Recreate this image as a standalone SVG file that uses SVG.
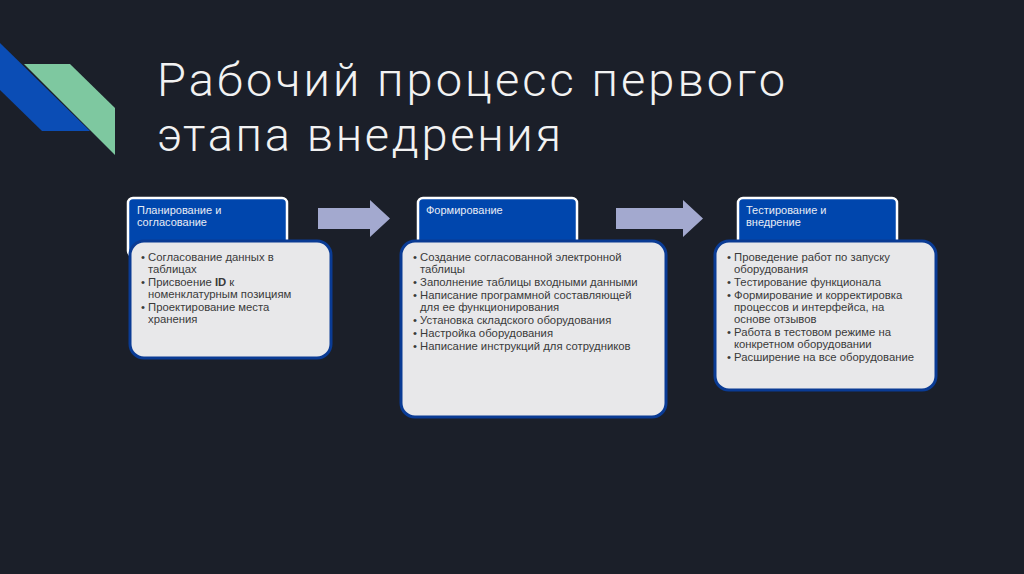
<svg xmlns="http://www.w3.org/2000/svg" width="1024" height="574" viewBox="0 0 1024 574">
<style>
.hd{fill:#0046ad;stroke:#fff;stroke-width:2.5}
.bd{fill:#e8e8ea;stroke:#0a3b94;stroke-width:3}
.ht{font-family:"Liberation Sans",Arial,sans-serif;font-size:11px;fill:#e8ecf5}
.bt{font-family:"Liberation Sans",Arial,sans-serif;font-size:11.3px;fill:#3a3a3a}
.ar{fill:#a3a9cf}
.ti{font-family:Roboto,"Liberation Sans",sans-serif;font-size:47px;font-weight:300;fill:#f2f2f2}
</style>
<rect width="1024" height="574" fill="#1b1f29"/>
<polygon points="0,43 90,131 42,131 0,90" fill="#0b4db5"/>
<polygon points="24,64 70,64 115,108 115,155" fill="#7ec8a0"/>
<text class="ti" x="157" y="96" textLength="628" lengthAdjust="spacing">Рабочий процесс первого</text>
<text class="ti" x="157" y="151" textLength="404" lengthAdjust="spacing">этапа внедрения</text>
<g id="connectors">
<polygon class="ar" points="318,208 370,208 370,200 390,218.5 370,237 370,229 318,229"/>
<polygon class="ar" points="616,208 683,208 683,200 703,218.5 683,237 683,229 616,229"/>
</g>
<g id="n1">
<rect class="hd" x="128" y="198" width="159" height="58" rx="5"/>
<rect class="bd" x="130" y="241" width="201" height="117" rx="14"/>
<text class="ht" x="137" y="214">Планирование и</text>
<text class="ht" x="137" y="226">согласование</text>
<g class="bt">
<text x="141" y="261">• Согласование данных в</text>
<text x="148" y="273">таблицах</text>
<text x="141" y="286">• Присвоение <tspan font-weight="bold">ID</tspan> к</text>
<text x="148" y="298">номенклатурным позициям</text>
<text x="141" y="311">• Проектирование места</text>
<text x="148" y="323">хранения</text>
</g>
</g>
<g id="n2">
<rect class="hd" x="418" y="198" width="159" height="58" rx="5"/>
<rect class="bd" x="401" y="241" width="265" height="176" rx="14"/>
<text class="ht" x="426" y="214">Формирование</text>
<g class="bt">
<text x="413" y="261">• Создание согласованной электронной</text>
<text x="420" y="273">таблицы</text>
<text x="413" y="286">• Заполнение таблицы входными данными</text>
<text x="413" y="299">• Написание программной составляющей</text>
<text x="420" y="311">для ее функционирования</text>
<text x="413" y="324">• Установка складского оборудования</text>
<text x="413" y="337">• Настройка оборудования</text>
<text x="413" y="350">• Написание инструкций для сотрудников</text>
</g>
</g>
<g id="n3">
<rect class="hd" x="738" y="198" width="159" height="58" rx="5"/>
<rect class="bd" x="715" y="241" width="221" height="149" rx="14"/>
<text class="ht" x="746" y="214">Тестирование и</text>
<text class="ht" x="746" y="226">внедрение</text>
<g class="bt">
<text x="727" y="261">• Проведение работ по запуску</text>
<text x="734" y="273">оборудования</text>
<text x="727" y="286">• Тестирование функционала</text>
<text x="727" y="299">• Формирование и корректировка</text>
<text x="734" y="311">процессов и интерфейса, на</text>
<text x="734" y="323">основе отзывов</text>
<text x="727" y="336">• Работа в тестовом режиме на</text>
<text x="734" y="348">конкретном оборудовании</text>
<text x="727" y="361">• Расширение на все оборудование</text>
</g>
</g>
</svg>
